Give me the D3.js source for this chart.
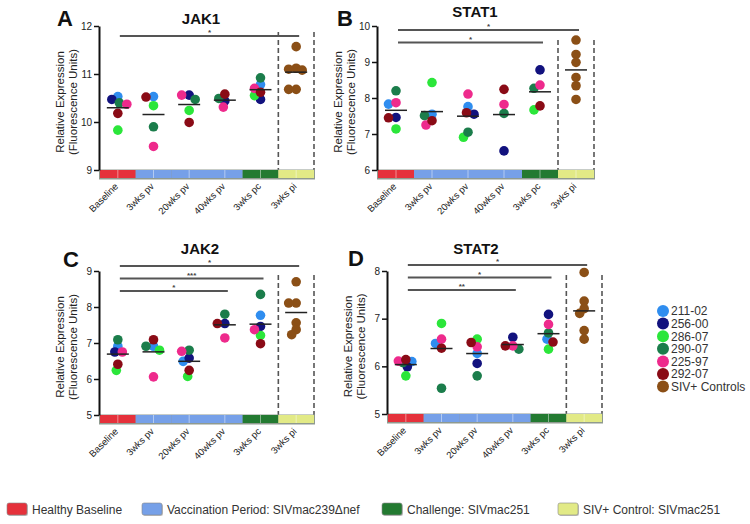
<!DOCTYPE html>
<html><head><meta charset="utf-8">
<script src="https://cdn.jsdelivr.net/npm/d3@7"></script>
<style>body{margin:0;background:#fff;font-family:"Liberation Sans",Arial,sans-serif;}</style>
</head><body>
<script>
// ---------------- DATA ----------------
const categories = ['Baseline','3wks pv','20wks pv','40wks pv','3wks pc','3wks pi'];
const phases = ['Healthy Baseline','Vaccination Period: SIVmac239\u0394nef','Challenge: SIVmac251','SIV+ Control: SIVmac251'];
const categoryPhase = [0,1,1,1,2,3];
const animals = ['211-02','256-00','286-07','290-07','225-97','292-07'];
const controlLabel = 'SIV+ Controls';

// rows follow `animals`, columns follow the first five categories
const jak1Values = [
  [10.53, 10.53, null, null, 10.78],
  [10.47, null, 10.56, 10.44, 10.47],
  [9.83, 10.34, 10.24, null, 10.55],
  [10.40, 9.90, 10.47, 10.49, 10.92],
  [10.37, 9.49, 10.56, 10.31, 10.70],
  [10.18, 10.52, 9.99, 10.58, 10.62]
];
const jak1Controls = [11.57, 11.12, 11.10, 11.08, 10.68, 10.68];
const jak1Ticks = [9, 10, 11, 12];
const jak1Sig = [['Baseline','3wks pi','*']];

const stat1Values = [
  [7.83, 7.55, 7.76, null, null],
  [7.46, null, 7.55, 6.53, 8.78],
  [7.14, 8.43, 6.91, null, 7.67],
  [8.20, 7.51, 7.05, 7.57, 8.27],
  [7.87, 7.25, 8.11, 7.82, 8.36],
  [7.45, 7.37, 7.59, 8.24, 7.78]
];
const stat1Controls = [9.61, 9.21, 8.99, 8.57, 8.34, 7.96];
const stat1Ticks = [6, 7, 8, 9, 10];
const stat1Sig = [['Baseline','3wks pi','*'],['Baseline','3wks pc','*']];

const jak2Values = [
  [6.91, 6.91, 6.49, null, 7.77],
  [6.75, null, 6.58, 7.54, 7.46],
  [6.24, 6.80, 6.07, null, 7.21],
  [7.09, 6.91, 6.80, 7.80, 8.35],
  [6.75, 6.06, 6.77, 7.14, 7.37],
  [6.41, 7.09, 6.24, 7.54, 6.98]
];
const jak2Controls = [8.70, 8.11, 8.11, 7.56, 7.37, 7.23];
const jak2Ticks = [5, 6, 7, 8, 9];
const jak2Sig = [['Baseline','3wks pi','*'],['Baseline','3wks pc','***'],['Baseline','40wks pv','*']];

const stat2Values = [
  [6.10, 6.48, 6.27, null, 6.57],
  [5.99, null, 6.06, 6.61, 7.09],
  [5.80, 6.90, 6.57, null, 6.36],
  [6.08, 5.54, 5.80, 6.36, 6.70],
  [6.11, 6.57, 6.41, 6.43, 6.88],
  [6.14, 6.38, 6.50, 6.43, 6.51]
];
const stat2Controls = [7.97, 7.37, 7.21, 7.11, 6.75, 6.57];
const stat2Ticks = [5, 6, 7, 8];
const stat2Sig = [['Baseline','3wks pi','*'],['Baseline','3wks pc','*'],['Baseline','40wks pv','**']];

// ---------------- STYLE / LAYOUT ----------------
const animalColors = ['#2f8def','#12127e','#2be63a','#1b7d4b','#ee2a8c','#8a0b16'];
const controlColor = '#8b4f16';
const phaseColors = ['#e5313b','#76a0e8','#237a31','#e2ea86'];

const panels = [
  {letter:'A', title:'JAK1',  values:jak1Values,  controls:jak1Controls,  ticks:jak1Ticks,  sig:jak1Sig,
   x0:100, x1:314, yTop:26,  yBot:170, titleX:201, titleY:24,  letterX:57,  letterY:26,  sigTop:36,  dashTop:32},
  {letter:'B', title:'STAT1', values:stat1Values, controls:stat1Controls, ticks:stat1Ticks, sig:stat1Sig,
   x0:378, x1:594, yTop:26,  yBot:170, titleX:475, titleY:17,  letterX:337, letterY:26,  sigTop:30,  dashTop:40},
  {letter:'C', title:'JAK2',  values:jak2Values,  controls:jak2Controls,  ticks:jak2Ticks,  sig:jak2Sig,
   x0:100, x1:314, yTop:271, yBot:415, titleX:200, titleY:254, letterX:63,  letterY:267, sigTop:266, dashTop:275},
  {letter:'D', title:'STAT2', values:stat2Values, controls:stat2Controls, ticks:stat2Ticks, sig:stat2Sig,
   x0:388, x1:602, yTop:271, yBot:414, titleX:476, titleY:254, letterX:348, letterY:266, sigTop:265, dashTop:275}
];

const R = 4.8;
const svg = d3.select('body').append('svg').attr('width',750).attr('height',524)
  .style('font-family','"Liberation Sans",Arial,sans-serif');
svg.append('rect').attr('width',750).attr('height',524).attr('fill','#fff');

// compact deterministic dodge: smallest horizontal shift that keeps points mostly apart
function swarm(items, r) {
  const order = items.slice().sort((a,b)=>a.py-b.py);
  const placed = [];
  const minD = r*1.3, maxOff = 9, step = 1.5;
  const cands = [0];
  for (let s=step; s<=maxOff+1e-6; s+=step) { cands.push(-s); cands.push(s); }
  for (const it of order) {
    let best = 0, bestScore = -Infinity;
    for (const off of cands) {
      const md = placed.length ? d3.min(placed, q => Math.hypot(q.off-off, q.py-it.py)) : Infinity;
      if (md >= minD) { best = off; bestScore = Infinity; break; }
      if (md > bestScore) { bestScore = md; best = off; }
    }
    it.off = best;
    placed.push(it);
  }
  return items;
}

panels.forEach(p => {
  const g = svg.append('g');
  const x = d3.scaleBand().domain(categories).range([p.x0, p.x1]).padding(0);
  const y = d3.scaleLinear().domain([p.ticks[0], p.ticks[p.ticks.length-1]]).range([p.yBot, p.yTop]);
  const bw = x.bandwidth();
  const cx = c => x(c) + bw/2;
  const bandH = 8;

  // dashed separators around control group
  const pi = categories[5];
  [x(pi), x(pi)+bw].forEach(xx => {
    g.append('line').attr('x1',xx).attr('x2',xx).attr('y1',p.dashTop).attr('y2',p.yBot)
      .attr('stroke','#555').attr('stroke-width',1.6).attr('stroke-dasharray','5,3');
  });

  // phase band
  g.append('rect').attr('x',p.x0-1).attr('y',p.yBot-0.5).attr('width',p.x1-p.x0+2).attr('height',bandH+2)
    .attr('fill','#8f9a8f');
  categories.forEach((c,i) => {
    g.append('rect').attr('x',x(c)).attr('y',p.yBot).attr('width',bw).attr('height',bandH)
      .attr('fill',phaseColors[categoryPhase[i]]);
    g.append('line').attr('x1',cx(c)).attr('x2',cx(c)).attr('y1',p.yBot).attr('y2',p.yBot+bandH)
      .attr('stroke','#fff').attr('stroke-opacity',0.45).attr('stroke-width',1);
  });

  // y axis
  const ax = g.append('g').attr('transform',`translate(${p.x0-1},0)`)
    .call(d3.axisLeft(y).tickValues(p.ticks).tickSize(5).tickSizeOuter(0).tickPadding(2).tickFormat(d3.format('d')));
  ax.select('.domain').attr('stroke','#111').attr('stroke-width',2);
  ax.selectAll('.tick line').attr('stroke','#111').attr('stroke-width',1.5);
  ax.selectAll('.tick text').attr('font-size',10).attr('fill','#222')
    .style('font-family','"Liberation Sans",Arial,sans-serif');

  // x labels
  categories.forEach(c => {
    g.append('text').attr('transform',`translate(${cx(c)+1},${p.yBot+17}) rotate(-45)`)
      .attr('text-anchor','end').attr('font-size',9.5).attr('fill','#222').text(c);
  });

  // significance bars
  p.sig.forEach((s,i) => {
    const yy = p.sigTop + i*12.5;
    const xa = cx(s[0])+2, xb = cx(s[1])+3;
    g.append('line').attr('x1',xa).attr('x2',xb).attr('y1',yy).attr('y2',yy)
      .attr('stroke','#555').attr('stroke-width',2);
    g.append('text').attr('x',(xa+xb)/2).attr('y',yy-1).attr('text-anchor','middle')
      .attr('font-size',8).attr('font-weight','bold').attr('fill','#444').text(s[2]);
  });

  // points
  const groups = categories.map((c,ci) => {
    let items;
    if (ci < 5) {
      items = animals.map((a,ai) => ({v:p.values[ai][ci], color:animalColors[ai]})).filter(d => d.v != null);
    } else {
      items = p.controls.map(v => ({v, color:controlColor}));
    }
    items.forEach(d => d.py = y(d.v));
    swarm(items, R);
    return {c, items};
  });
  groups.forEach(gr => {
    g.selectAll(null).data(gr.items).enter().append('circle')
      .attr('cx',d => cx(gr.c)+d.off).attr('cy',d => d.py).attr('r',R).attr('fill',d => d.color);
  });
  groups.forEach(gr => {
    const m = d3.mean(gr.items, d => d.v);
    g.append('line').attr('x1',cx(gr.c)-11).attr('x2',cx(gr.c)+11).attr('y1',y(m)).attr('y2',y(m))
      .attr('stroke','#222').attr('stroke-width',1.5);
  });

  // titles and axis label
  g.append('text').attr('x',p.titleX).attr('y',p.titleY).attr('text-anchor','middle')
    .attr('font-size',15).attr('font-weight','bold').attr('fill','#111').text(p.title);
  g.append('text').attr('x',p.letterX).attr('y',p.letterY)
    .attr('font-size',22).attr('font-weight','bold').attr('fill','#111').text(p.letter);
  const yc = (p.yTop + p.yBot + bandH)/2;
  [['Relative Expression',-36],['(Fluorescence Units)',-23]].forEach(([t,dx]) => {
    g.append('text').attr('transform',`translate(${p.x0+dx},${yc}) rotate(-90)`)
      .attr('text-anchor','middle').attr('font-size',11.5).attr('fill','#222').text(t);
  });
});

// right legend
const legItems = animals.map((a,i) => ({label:a, color:animalColors[i]})).concat([{label:controlLabel, color:controlColor}]);
const lg = svg.append('g');
legItems.forEach((d,i) => {
  const yy = 311 + i*12.6;
  lg.append('circle').attr('cx',663).attr('cy',yy).attr('r',6).attr('fill',d.color);
  lg.append('text').attr('x',671).attr('y',yy+4.3).attr('font-size',12).attr('fill','#333').text(d.label);
});

// bottom legend
const bx = [7, 142, 382, 558];
const bl = svg.append('g');
phases.forEach((ph,i) => {
  bl.append('rect').attr('x',bx[i]+1).attr('y',504).attr('width',20).attr('height',12).attr('rx',2)
    .attr('fill','#999').attr('opacity',0.6);
  bl.append('rect').attr('x',bx[i]).attr('y',503).attr('width',20).attr('height',12).attr('rx',2)
    .attr('fill',phaseColors[i]).attr('stroke','#888').attr('stroke-width',0.6);
  bl.append('text').attr('x',bx[i]+25).attr('y',513.5).attr('font-size',12).attr('fill','#333').text(ph);
});
</script>
</body></html>
